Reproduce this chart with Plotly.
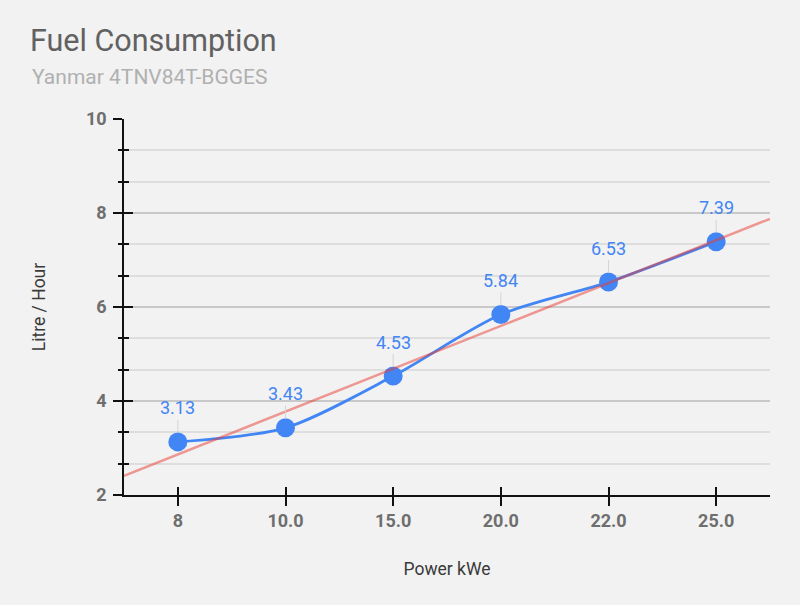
import numpy as np
import plotly.graph_objects as go

power_labels = ["8", "10.0", "15.0", "20.0", "22.0", "25.0"]
fuel_lph = [3.13, 3.43, 4.53, 5.84, 6.53, 7.39]
y_ticks = [2, 4, 6, 8, 10]

idx = list(range(len(power_labels)))
slope, intercept = np.polyfit(idx, fuel_lph, 1)
trend_x = [-0.5, len(idx) - 0.5]
trend_y = [slope * x + intercept for x in trend_x]

BLUE = "#4285F4"
BG = "#f2f2f2"
FONT = "Roboto"
TICK_GRAY = "#6e6e6e"

fig = go.Figure()
fig.add_trace(go.Scatter(
    x=idx, y=fuel_lph, mode="lines+markers",
    line=dict(color=BLUE, width=2.8, shape="spline", smoothing=0.8),
    marker=dict(color=BLUE, size=19),
    hoverinfo="skip", showlegend=False,
))
fig.add_trace(go.Scatter(
    x=trend_x, y=trend_y, mode="lines",
    line=dict(color="rgb(235,60,50)", width=2.5), opacity=0.5,
    hoverinfo="skip", showlegend=False,
))
# invisible trace to host the overlay axes (inside tick marks)
fig.add_trace(go.Scatter(x=[0], y=[2], xaxis="x2", yaxis="y2", mode="markers",
                         marker=dict(opacity=0), hoverinfo="skip", showlegend=False))

for x, v in zip(idx, fuel_lph):
    fig.add_annotation(x=x, y=v, text=f"{v:.2f}", showarrow=True, arrowhead=0,
                       arrowwidth=1, arrowcolor="#d4d4d4", ax=0, ay=-34, standoff=9,
                       font=dict(family=FONT, size=18, color=BLUE))

fig.add_annotation(xref="paper", yref="paper", x=(30 - 124) / 646, y=1 + (119 - 77) / 376,
                   xanchor="left", yanchor="middle", showarrow=False,
                   text="Yanmar 4TNV84T-BGGES",
                   font=dict(family=FONT, size=21, color="#b0b0b0"))

axis_common = dict(showline=True, linecolor="#111", linewidth=1.5,
                   tickcolor="#111", tickwidth=1.5, zeroline=False)

fig.update_layout(
    width=800, height=605,
    paper_bgcolor=BG, plot_bgcolor=BG,
    margin=dict(l=124, r=30, t=119, b=110),
    font=dict(family=FONT),
    title=dict(text="Fuel Consumption", xref="container", yref="container",
               x=30 / 800, y=1 - 40 / 605, xanchor="left", yanchor="middle",
               font=dict(family=FONT, size=30.5, color="#616161")),
    xaxis=dict(range=[-0.5, len(idx) - 0.5], tickvals=idx, ticktext=power_labels,
               ticks="outside", ticklen=9, showgrid=False,
               tickfont=dict(family=FONT, size=18, color=TICK_GRAY, weight="bold"),
               title=dict(text="Power kWe", standoff=32,
                          font=dict(family=FONT, size=17.5, color="#3a3a3a")),
               **axis_common),
    yaxis=dict(range=[2, 10], tickvals=y_ticks, ticks="outside", ticklen=9,
               showgrid=True, gridcolor="#c9c9c9", gridwidth=1.5,
               minor=dict(dtick=2 / 3, tick0=2, ticks="outside", ticklen=4,
                          tickcolor="#111", tickwidth=1.5,
                          showgrid=True, gridcolor="#dedede", gridwidth=1.5),
               tickfont=dict(family=FONT, size=18, color=TICK_GRAY, weight="bold"),
               ticklabelstandoff=3,
               title=dict(text="Litre / Hour", standoff=36,
                          font=dict(family=FONT, size=17.5, color="#3a3a3a")),
               **axis_common),
    xaxis2=dict(overlaying="x", anchor="y2", range=[-0.5, len(idx) - 0.5], tickvals=idx,
                ticks="inside", ticklen=8, showticklabels=False, showgrid=False,
                **axis_common),
    yaxis2=dict(overlaying="y", anchor="x2", range=[2, 10], tickvals=y_ticks,
                ticks="inside", ticklen=9, showticklabels=False, showgrid=False,
                minor=dict(dtick=2 / 3, tick0=2, ticks="inside", ticklen=5,
                           tickcolor="#111", tickwidth=1.5, showgrid=False),
                **axis_common),
)

fig.write_html("out.html")
